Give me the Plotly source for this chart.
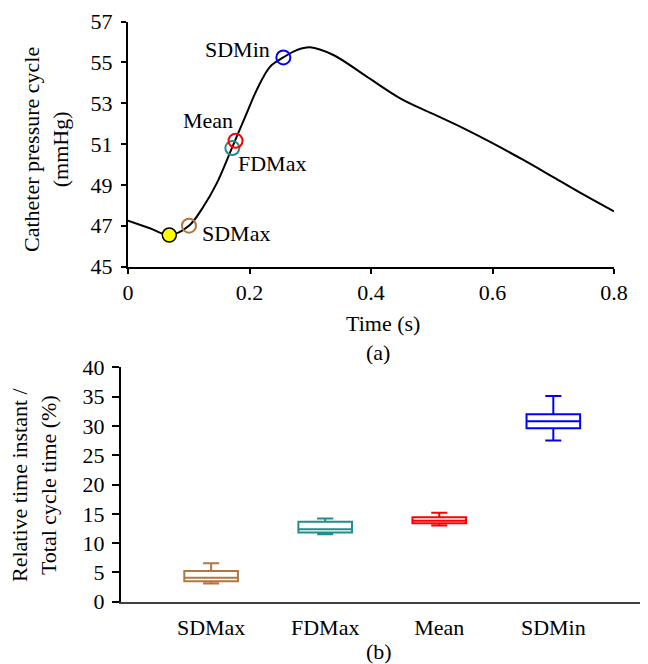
import plotly.graph_objects as go

# Page body has an 8px default margin; figure is sized so it fits the window.
OFF = 8
W, H = 648 - OFF, 664 - OFF

# ---- Panel (a) data ----
curve_t = [0.0, 0.036, 0.068, 0.1004, 0.124, 0.146, 0.1717, 0.1953, 0.2118, 0.2337, 0.2557,
           0.2777, 0.2996, 0.338, 0.393, 0.448, 0.500, 0.550, 0.600, 0.650, 0.700, 0.750, 0.80]
curve_p = [47.24, 46.87, 46.54, 47.0, 47.93, 49.07, 50.85, 52.50, 53.64, 54.78, 55.24,
           55.60, 55.74, 55.36, 54.30, 53.24, 52.50, 51.80, 51.04, 50.23, 49.38, 48.52, 47.70]

min_t, min_p = [0.068], [46.54]
pt_names = ["SDMax", "FDMax", "Mean", "SDMin"]
pt_t = [0.1004, 0.1717, 0.177, 0.2557]
pt_p = [47.0, 50.80, 51.16, 55.24]
pt_colors = ["#B07840", "#1F8F8C", "#FF0000", "#0000FF"]

# ---- Panel (b) data ----
cats = ["SDMax", "FDMax", "Mean", "SDMin"]
q_low = [3.1, 11.5, 13.0, 27.5]
q1 = [3.5, 11.8, 13.4, 29.6]
med = [4.1, 12.35, 13.8, 30.8]
q3 = [5.25, 13.65, 14.4, 32.0]
q_high = [6.55, 14.2, 15.2, 35.1]

FONT = "Liberation Serif, Times New Roman, serif"


def px_x(x):
    return (x - OFF) / W


def px_y(y):
    return 1 - (y - OFF) / H


fig = go.Figure()

# Curve
fig.add_trace(go.Scatter(x=curve_t, y=curve_p, mode="lines",
                         line=dict(color="black", width=2, shape="spline", smoothing=1.0),
                         xaxis="x", yaxis="y", showlegend=False, hoverinfo="skip"))
# Minimum marker
fig.add_trace(go.Scatter(x=min_t, y=min_p, mode="markers",
                         marker=dict(size=14, color="#FFFF00", line=dict(color="black", width=1.5)),
                         xaxis="x", yaxis="y", showlegend=False))
# Feature point markers (open circles)
for n, t, p, c in zip(pt_names, pt_t, pt_p, pt_colors):
    fig.add_trace(go.Scatter(x=[t], y=[p], mode="markers", name=n,
                             marker=dict(size=14, color="rgba(255,255,255,0)", symbol="circle",
                                         line=dict(color=c, width=2)),
                             xaxis="x", yaxis="y", showlegend=False))

# Boxes
for i, c in enumerate(cats):
    fig.add_trace(go.Box(x=[c], q1=[q1[i]], median=[med[i]], q3=[q3[i]],
                         lowerfence=[q_low[i]], upperfence=[q_high[i]],
                         line=dict(color=pt_colors[i], width=2), fillcolor="rgba(255,255,255,0)",
                         width=0.47, whiskerwidth=0.3, boxpoints=False,
                         xaxis="x2", yaxis="y2", showlegend=False, name=c))

axis_common = dict(showgrid=False, zeroline=False, showline=True, linecolor="black",
                   linewidth=2, ticks="outside", tickcolor="black", tickwidth=2, automargin=False,
                   tickfont=dict(family=FONT, size=22, color="black"))

fig.update_layout(
    width=W, height=H,
    margin=dict(l=0, r=0, t=0, b=0, pad=0),
    paper_bgcolor="white", plot_bgcolor="white",
    font=dict(family=FONT, size=22, color="black"),
    xaxis=dict(domain=[px_x(128), px_x(614)], range=[0, 0.8], tickvals=[0, 0.2, 0.4, 0.6, 0.8],
               ticktext=["0", "0.2", "0.4", "0.6", "0.8"], ticklen=5, anchor="y", **axis_common),
    yaxis=dict(domain=[px_y(266.5), px_y(21.5)], range=[45, 57], tickvals=[45, 47, 49, 51, 53, 55, 57],
               ticklen=5, ticklabelstandoff=4, anchor="x", **axis_common),
    xaxis2=dict(domain=[px_x(121), 1.0], range=[-0.79, 3.83], type="category", automargin=False,
                anchor="y2", showgrid=False, zeroline=False, showline=True, linecolor="#404040",
                linewidth=2, ticks="", ticklabelstandoff=5,
                tickfont=dict(family=FONT, size=22, color="black")),
    yaxis2=dict(domain=[px_y(601.7), px_y(367.3)], range=[0, 40], tickvals=[0, 5, 10, 15, 20, 25, 30, 35, 40],
                ticklen=7, ticklabelstandoff=3, anchor="x2", **axis_common),
)

ann = [
    dict(text="SDMin", x=px_x(272), y=px_y(50), xanchor="right", yanchor="middle"),
    dict(text="Mean", x=px_x(208), y=px_y(120), xanchor="center", yanchor="middle"),
    dict(text="FDMax", x=px_x(236), y=px_y(163), xanchor="left", yanchor="middle"),
    dict(text="SDMax", x=px_x(200), y=px_y(233), xanchor="left", yanchor="middle"),
    dict(text="Time (s)", x=px_x(383), y=px_y(323), xanchor="center", yanchor="middle"),
    dict(text="(a)", x=px_x(378), y=px_y(352), xanchor="center", yanchor="middle"),
    dict(text="(b)", x=px_x(379), y=px_y(651), xanchor="center", yanchor="middle"),
    dict(text="Catheter pressure cycle<br>(mmHg)", x=px_x(46), y=px_y(150), textangle=-90,
         xanchor="center", yanchor="middle"),
    dict(text="Relative time instant /<br>Total cycle time (%)", x=px_x(34), y=px_y(485), textangle=-90,
         xanchor="center", yanchor="middle"),
]
for a in ann:
    fig.add_annotation(xref="paper", yref="paper", showarrow=False,
                       font=dict(family=FONT, size=22, color="black"), **a)

fig.write_html("out.html")
